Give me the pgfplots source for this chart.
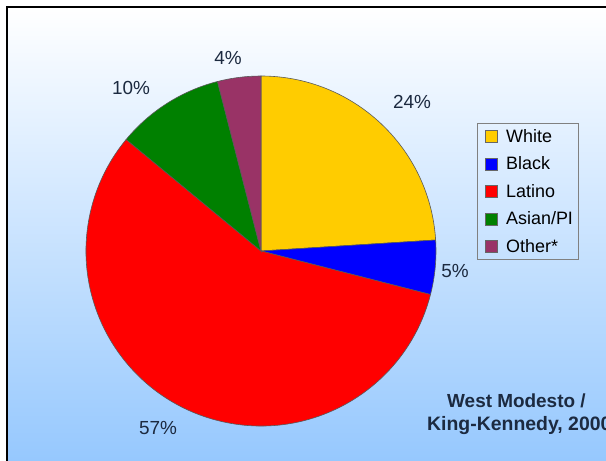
\documentclass[border=0pt]{standalone}
\usepackage{pgfplots}
\usepackage{pgfplotstable}
\pgfplotsset{compat=1.18}
\usepackage{fontspec}
\setmainfont{Liberation Sans}
\definecolor{cWhite}{HTML}{FFCC00}
\definecolor{cBlack}{HTML}{0000FF}
\definecolor{cLatino}{HTML}{FF0000}
\definecolor{cAsian}{HTML}{008000}
\definecolor{cOther}{HTML}{993366}
\definecolor{labcol}{HTML}{1C2A40}
\definecolor{bgbot}{HTML}{96C8FE}

% group, percent, colour, label position (pixels from top left)
\pgfplotstableread{
group pct col lx ly
White 24 cWhite 412 102
Black 5 cBlack 455 271
Latino 57 cLatino 158 428
AsianPI 10 cAsian 131 88
Other 4 cOther 228 58
}\piedata

\begin{document}
\begin{tikzpicture}
\useasboundingbox (0,0) rectangle (606bp,461bp);
\clip (0,0) rectangle (606bp,461bp);
\fill[white] (0,0) rectangle (606bp,461bp);
\shade[top color=white, bottom color=bgbot] (7bp,0) rectangle (607bp,454bp);
\draw[black, line width=1.4bp] (7bp,-2bp) -- (7bp,454bp) -- (610bp,454bp);
\begin{axis}[
  at={(0,0)}, anchor=south west,
  x=1bp, y=1bp, xmin=0, xmax=606, ymin=0, ymax=461,
  hide axis, clip=false,
  legend cell align=left,
  legend style={at={(axis cs:477,338)}, anchor=north west,
    draw=gray, fill=none, line width=0.8bp,
    font=\fontsize{18}{18}\selectfont,
    inner xsep=3bp, inner ysep=4bp,
    row sep=9bp},
  legend image code/.code={\path[#1] (0bp,-6bp) rectangle (12bp,6bp); \path (-5bp,0) (18bp,0);},
]
\def\cum{0}
\pgfplotsforeachungrouped \i in {0,...,4}{%
  \pgfplotstablegetelem{\i}{pct}\of\piedata \let\pp\pgfplotsretval
  \pgfplotstablegetelem{\i}{col}\of\piedata \let\colname\pgfplotsretval
  \pgfplotstablegetelem{\i}{lx}\of\piedata \let\lx\pgfplotsretval
  \pgfplotstablegetelem{\i}{ly}\of\piedata \pgfmathsetmacro\ly{461-\pgfplotsretval}
  \pgfmathsetmacro\angA{90-3.6*\cum}
  \pgfmathsetmacro\angB{90-3.6*(\cum+\pp)}
  \pgfmathsetmacro\px{261+175*cos(\angA)}
  \pgfmathsetmacro\py{210+175*sin(\angA)}
  \edef\temp{\noexpand\fill[\colname, draw=black!65, line width=0.6bp]
    (axis cs:261,210) -- (axis cs:\px,\py)
    arc[start angle=\angA, end angle=\angB, radius=175bp] -- cycle;
    \noexpand\node[labcol, inner sep=0pt, text height=13.5bp, text depth=0pt,
      font=\noexpand\fontsize{19}{19}\noexpand\selectfont]
      at (axis cs:\lx,\ly) {\pp\noexpand\%};}
  \temp
  \pgfmathsetmacro\cum{\cum+\pp}
}
\addlegendimage{fill=cWhite, draw=black!60}
\addlegendentry{White}
\addlegendimage{fill=cBlack, draw=black!60}
\addlegendentry{Black}
\addlegendimage{fill=cLatino, draw=black!60}
\addlegendentry{Latino}
\addlegendimage{fill=cAsian, draw=black!60}
\addlegendentry{Asian/PI}
\addlegendimage{fill=cOther, draw=black!60}
\addlegendentry{Other*}
\node[labcol, anchor=base west, inner sep=0pt, font=\fontsize{19}{19}\selectfont\bfseries]
  at (axis cs:447,54) {West Modesto /};
\node[labcol, anchor=base west, inner sep=0pt, font=\fontsize{19.5}{19.5}\selectfont\bfseries]
  at (axis cs:427,31) {King-Kennedy, 2000};
\end{axis}
\end{tikzpicture}
\end{document}
